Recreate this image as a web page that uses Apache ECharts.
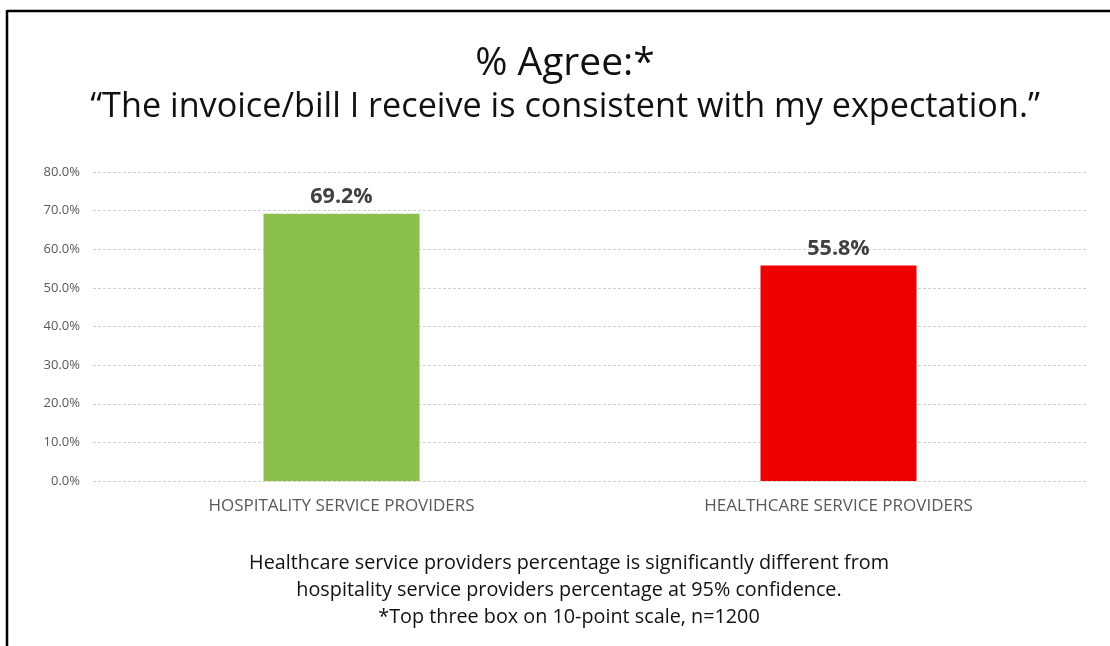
<!DOCTYPE html>
<html>
<head>
<meta charset="utf-8">
<script src="https://cdn.jsdelivr.net/npm/echarts@6/dist/echarts.min.js"></script>
<style>
  html, body { margin: 0; padding: 0; background: #fff; }
  #chart { width: 1110px; height: 646px; }
</style>
</head>
<body>
<div id="chart"></div>
<script>
// Survey result: share agreeing with the statement, by provider type
const categories = ['HOSPITALITY SERVICE PROVIDERS', 'HEALTHCARE SERVICE PROVIDERS'];
const agreePct = [69.2, 55.8];
const barColors = ['#8BC04A', '#EE0000'];
const titleMain = '% Agree:*';
const titleQuote = '\u201CThe invoice/bill I receive is consistent with my expectation.\u201D';
const footnotes = [
  'Healthcare service providers percentage is significantly different from',
  'hospitality service providers percentage at 95% confidence.',
  '*Top three box on 10-point scale, n=1200'
];

const FONT = '"Open Sans", "Noto Sans", sans-serif';
const chart = echarts.init(document.getElementById('chart'), null, { renderer: 'canvas' });

// centred text helper for headings and notes
const centredText = (text, y, size, color) => ({
  type: 'text', x: 565, y: y,
  style: { text: text, x: 0, y: 0, textAlign: 'center', textVerticalAlign: 'middle',
    fontFamily: FONT, fontSize: size, fill: color }
});

chart.setOption({
  animation: false,
  backgroundColor: '#ffffff',
  textStyle: { fontFamily: FONT },
  graphic: [
    { type: 'line', shape: { x1: 7, y1: 11, x2: 1110, y2: 11 }, style: { stroke: '#000', lineWidth: 2.5 } },
    { type: 'line', shape: { x1: 7, y1: 10, x2: 7, y2: 646 }, style: { stroke: '#000', lineWidth: 2.5 } },
    centredText(titleMain, 64, 39, '#111'),
    centredText(titleQuote, 107, 34.2, '#111'),
    Object.assign(centredText(footnotes[0], 563, 19.8, '#111'), { x: 569 }),
    Object.assign(centredText(footnotes[1], 590, 19.8, '#111'), { x: 569 }),
    Object.assign(centredText(footnotes[2], 617, 19.8, '#111'), { x: 569 })
  ],
  grid: { left: 93, right: 23, top: 172, bottom: 165, containLabel: false },
  xAxis: {
    type: 'category',
    data: categories,
    axisLine: { show: false },
    axisTick: { show: false },
    axisLabel: { color: '#595959', fontSize: 17, fontFamily: FONT, margin: 17 }
  },
  yAxis: {
    type: 'value',
    min: 0, max: 80, interval: 10,
    axisLine: { show: false },
    axisTick: { show: false },
    axisLabel: { color: '#595959', fontSize: 13, fontFamily: FONT, margin: 13,
      formatter: v => v.toFixed(1) + '%' },
    splitLine: { lineStyle: { color: '#D0D0D0', type: [3, 2], width: 1 } }
  },
  series: [{
    type: 'bar',
    barWidth: 156,
    data: agreePct.map((v, i) => ({ value: v, itemStyle: { color: barColors[i] } })),
    label: {
      show: true, position: 'top', distance: 6,
      color: '#404040', fontSize: 21.5, fontWeight: 'bold', fontFamily: FONT,
      formatter: p => p.value.toFixed(1) + '%'
    }
  }]
});
</script>
</body>
</html>
